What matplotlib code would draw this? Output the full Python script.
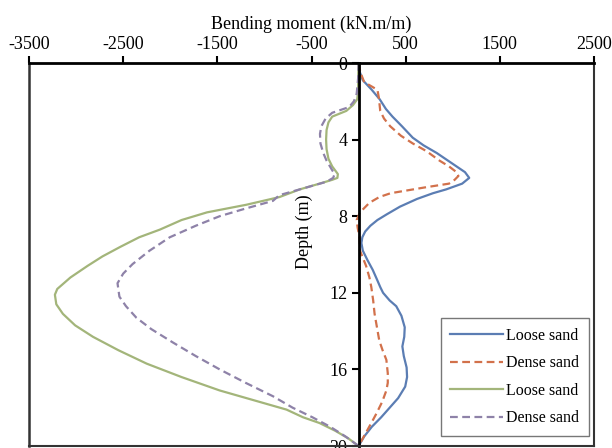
import matplotlib
matplotlib.use("Agg")
import matplotlib.pyplot as plt
from matplotlib.lines import Line2D

plt.rcParams['font.family'] = ['Liberation Serif', 'DejaVu Serif']

# Loose sand (positive side)
loose_pos_depth = [0, 0.5, 0.9, 1.4, 1.9, 2.4, 2.8, 3.3, 3.9, 4.3, 4.7, 5.1, 5.4, 5.7, 6.0, 6.3, 6.6, 6.8, 7.1, 7.5, 7.9, 8.2, 8.5, 8.8, 9.1, 9.4, 9.8, 10.3, 10.8, 11.3, 11.7, 12.0, 12.4, 12.7, 13.2, 13.8, 14.3, 14.8, 15.3, 15.9, 16.4, 16.9, 17.5, 18.0, 18.5, 19.0, 19.5, 20.0]
loose_pos_val = [0, 15, 45, 140, 225, 290, 360, 460, 575, 690, 830, 950, 1040, 1130, 1175, 1100, 930, 790, 620, 440, 300, 200, 125, 70, 40, 30, 45, 95, 150, 195, 230, 260, 330, 400, 455, 490, 485, 465, 480, 510, 515, 495, 420, 330, 240, 140, 60, 0]

# Dense sand (positive side)
dense_pos_depth = [0, 0.5, 1.0, 1.2, 1.4, 1.8, 2.5, 2.9, 3.3, 3.8, 4.2, 4.6, 5.1, 5.4, 5.7, 5.9, 6.1, 6.3, 6.5, 6.8, 7.0, 7.3, 7.6, 7.8, 8.2, 8.6, 9.1, 9.8, 10.6, 11.2, 11.7, 12.4, 13.1, 13.8, 14.5, 15.0, 15.5, 16.2, 16.7, 17.1, 17.7, 18.3, 18.8, 19.2, 19.6, 20.0]
dense_pos_val = [0, 20, 60, 130, 200, 215, 230, 270, 335, 450, 575, 720, 860, 960, 1040, 1060, 1020, 960, 700, 340, 220, 115, 55, 15, -20, -10, 10, 15, 80, 115, 135, 155, 170, 195, 220, 255, 295, 310, 310, 295, 250, 190, 135, 90, 45, 0]

# Loose sand (negative side)
loose_neg_depth = [0, 0.8, 1.5, 1.9, 2.2, 2.5, 2.8, 3.1, 3.5, 4.0, 4.5, 5.0, 5.4, 5.8, 6.0, 6.1, 6.3, 6.6, 7.0, 7.4, 7.8, 8.2, 8.7, 9.1, 9.6, 10.1, 10.6, 11.2, 11.8, 12.1, 12.6, 13.1, 13.7, 14.3, 15.0, 15.7, 16.4, 17.1, 17.6, 18.1, 18.5, 18.8, 19.2, 19.6, 20.0]
loose_neg_val = [0, -5, -5, -15, -60, -130, -280, -320, -340, -345, -340, -320, -280, -220, -225, -280, -415, -625, -840, -1190, -1610, -1880, -2110, -2330, -2530, -2720, -2880, -3060, -3200, -3225, -3210, -3140, -3010, -2820, -2550, -2250, -1880, -1475, -1120, -765, -590, -415, -250, -110, 0]

# Dense sand (negative side)
dense_neg_depth = [0, 0.8, 1.6, 2.0, 2.3, 2.6, 2.9, 3.3, 3.7, 4.2, 4.7, 5.1, 5.6, 5.8, 6.0, 6.2, 6.6, 6.9, 7.2, 7.6, 8.0, 8.5, 9.1, 9.8, 10.5, 11.0, 11.5, 12.2, 12.7, 13.3, 13.9, 14.6, 15.3, 16.0, 16.7, 17.4, 18.0, 18.5, 19.0, 19.5, 20.0]
dense_neg_val = [0, -5, -20, -50, -100, -280, -350, -395, -410, -405, -375, -340, -280, -255, -270, -340, -625, -840, -910, -1200, -1475, -1730, -2005, -2220, -2400, -2500, -2560, -2540, -2470, -2360, -2200, -1970, -1730, -1475, -1200, -910, -700, -490, -300, -140, 0]

series_labels = ['Loose sand', 'Dense sand', 'Loose sand', 'Dense sand']
x_ticks = [-3500, -2500, -1500, -500, 500, 1500, 2500]
y_ticks = [0, 4, 8, 12, 16, 20]

fig = plt.figure(figsize=(6.12, 4.48), dpi=100)
ax = fig.add_axes([29/612, 1-446/448, (594-29)/612, (446-63)/448])

c_blue = '#5b7db3'
c_orange = '#d2714b'
c_green = '#a3b57a'
c_purple = '#8e82a8'

ax.plot(loose_pos_val, loose_pos_depth, color=c_blue, lw=1.6, label=series_labels[0])
ax.plot(dense_pos_val, dense_pos_depth, color=c_orange, lw=1.6, ls=(0, (3.5, 2)), label=series_labels[1])
ax.plot(loose_neg_val, loose_neg_depth, color=c_green, lw=1.6, label=series_labels[2])
ax.plot(dense_neg_val, dense_neg_depth, color=c_purple, lw=1.6, ls=(0, (3.5, 2)), label=series_labels[3])

ax.set_xlim(-3500, 2500)
ax.set_ylim(20, 0)

ax.xaxis.set_ticks_position('top')
ax.xaxis.set_label_position('top')
ax.set_xticks(x_ticks)
ax.set_xticklabels([str(v) for v in x_ticks], fontsize=13)
ax.set_xlabel('Bending moment (kN.m/m)', fontsize=13, labelpad=5)
ax.tick_params(axis='x', direction='out', length=5, width=1.5, pad=2)

ax.spines['left'].set_position(('data', 0))
ax.spines['left'].set_linewidth(2)
ax.spines['left'].set_color('black')
ax.spines['top'].set_linewidth(2)
ax.spines['top'].set_color('black')
for s in ['right', 'bottom']:
    ax.spines[s].set_linewidth(1.5)
    ax.spines[s].set_color('#333333')
ax.add_line(Line2D([0, 0], [0, 1], transform=ax.transAxes, color='#333333', lw=1.8, clip_on=False))

ax.set_yticks(y_ticks)
ax.set_yticklabels([str(v) for v in y_ticks], fontsize=13)
ax.tick_params(axis='y', direction='out', length=5, width=1.5, pad=3)
ax.set_ylabel('Depth (m)', fontsize=13)
ax.yaxis.set_label_coords((313-29)/565, 1-(232-63)/383)

leg = ax.legend(loc='lower right', bbox_to_anchor=(0.991, 0.026), borderaxespad=0,
                fontsize=11.5, frameon=True, fancybox=False, edgecolor='#555555',
                handlelength=3.3, borderpad=0.6, labelspacing=0.72, handletextpad=0.2)
leg.get_frame().set_linewidth(1.0)

fig.savefig('out.png', dpi=100)
